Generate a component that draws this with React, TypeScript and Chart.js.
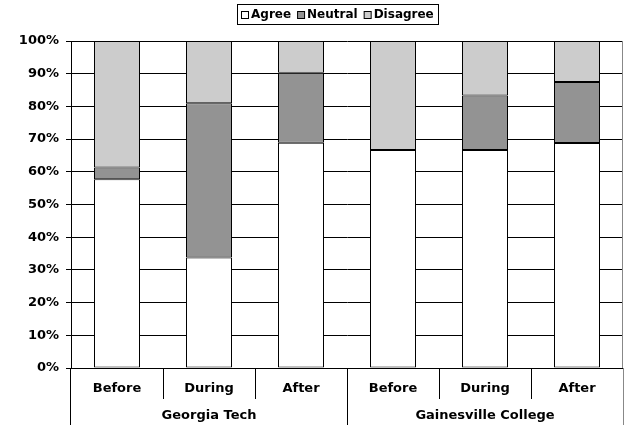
import React, { useEffect, useRef } from "react";
import { Chart, registerables } from "chart.js";

Chart.register(...registerables);

const categories = ["Before", "During", "After", "Before", "During", "After"];
const groups = ["Georgia Tech", "Gainesville College"];
const groupSize = 3;
const agree = [57.7, 33.8, 68.9, 66.7, 66.7, 68.8];
const neutral = [3.6, 47.2, 21.4, 0, 16.6, 18.7];
const disagree = [38.7, 19.0, 9.7, 33.3, 16.7, 12.5];
const seriesNames = ["Agree", "Neutral", "Disagree"];
const seriesColors = ["#ffffff", "#939393", "#cccccc"];
const yTicks = [0, 10, 20, 30, 40, 50, 60, 70, 80, 90, 100];

const FONT = "'DejaVu Sans', Verdana, sans-serif";

const decorPlugin = {
  id: "decor",
  afterDraw(chart: any) {
    const ctx = chart.ctx as CanvasRenderingContext2D;
    const xs = chart.scales.x;
    const { left, right, bottom, top } = chart.chartArea;
    const H = chart.height;
    const step = xs.getPixelForValue(1) - xs.getPixelForValue(0);
    const n = categories.length;
    ctx.save();
    ctx.strokeStyle = "#000";
    ctx.lineWidth = 1;
    const crisp = (v: number) => Math.round(v) + 0.5;
    // category dividers
    for (let i = 0; i <= n; i++) {
      const px = i === n ? right : xs.getPixelForValue(i) - step / 2;
      const isGroup = i % groupSize === 0;
      const x = crisp(i === 0 ? left - 1 : px);
      ctx.beginPath();
      ctx.moveTo(x, bottom);
      ctx.lineTo(x, isGroup ? H : bottom + 31);
      if (i === n) ctx.strokeStyle = "#888";
      ctx.stroke();
      ctx.strokeStyle = "#000";
    }
    // right border of plot
    ctx.strokeStyle = "#888";
    ctx.beginPath();
    ctx.moveTo(crisp(right - 1), top);
    ctx.lineTo(crisp(right - 1), bottom);
    ctx.stroke();
    // group labels
    ctx.fillStyle = "#000";
    ctx.font = `bold 13px ${FONT}`;
    ctx.textAlign = "center";
    ctx.textBaseline = "middle";
    groups.forEach((g, gi) => {
      const a = xs.getPixelForValue(gi * groupSize) - step / 2;
      const b = xs.getPixelForValue(gi * groupSize + groupSize - 1) + step / 2;
      ctx.fillText(g, (a + b) / 2, bottom + 48);
    });
    // legend
    ctx.font = `bold 12px ${FONT}`;
    const box = 7;
    const gapBoxText = 3;
    const gapItems = 6;
    const margin = 4;
    const widths = seriesNames.map((s) => ctx.measureText(s).width);
    const total =
      widths.reduce((s, w) => s + w + box + gapBoxText, 0) +
      gapItems * (seriesNames.length - 1) +
      margin * 2;
    const cx = 337;
    const lx = Math.round(cx - total / 2);
    const ly = 4;
    const lh = 20;
    ctx.strokeStyle = "#000";
    ctx.strokeRect(lx + 0.5, ly + 0.5, Math.round(total), lh);
    let x = lx + margin;
    ctx.textAlign = "left";
    seriesNames.forEach((s, i) => {
      ctx.fillStyle = seriesColors[i];
      ctx.fillRect(x + 0.5, ly + 7.5, box, box);
      ctx.strokeStyle = "#000";
      ctx.strokeRect(x + 0.5, ly + 7.5, box, box);
      x += box + gapBoxText;
      ctx.fillStyle = "#000";
      ctx.fillText(s, x, ly + 11);
      x += widths[i] + gapItems;
    });
    ctx.restore();
  },
};

export default function App() {
  const ref = useRef<HTMLCanvasElement | null>(null);
  useEffect(() => {
    document.body.style.margin = "0";
    const canvas = ref.current!;
    const series = [agree, neutral, disagree];
    const chart = new Chart(canvas, {
      type: "bar",
      data: {
        labels: categories,
        datasets: seriesNames.map((name, i) => ({
          label: name,
          data: series[i],
          backgroundColor: seriesColors[i],
          borderColor: "#000",
          borderWidth: 1,
          borderSkipped: false,
          barPercentage: 0.5,
          categoryPercentage: 1,
        })),
      },
      options: {
        responsive: false,
        animation: false,
        devicePixelRatio: 1,
        layout: { padding: { top: 41, right: 1, left: 0, bottom: 0 } },
        plugins: {
          legend: { display: false },
          tooltip: { enabled: false },
        },
        scales: {
          x: {
            stacked: true,
            grid: { display: false },
            border: { display: true, color: "#000", width: 1 },
            ticks: {
              color: "#000",
              font: { family: FONT, size: 13, weight: "bold" },
              padding: 5,
              maxRotation: 0,
              autoSkip: false,
            },
            afterFit: (s: any) => {
              s.height = 57;
            },
          },
          y: {
            stacked: true,
            min: 0,
            max: 100,
            afterBuildTicks: (s: any) => {
              s.ticks = yTicks.map((v) => ({ value: v }));
            },
            grid: { color: "#000", lineWidth: 1, tickLength: 5 },
            border: { display: true, color: "#000", width: 1 },
            ticks: {
              color: "#000",
              font: { family: FONT, size: 13, weight: "bold" },
              padding: 7,
              callback: (v: any) => `${v}%`,
            },
            afterFit: (s: any) => {
              s.width = 71;
            },
          },
        },
      },
      plugins: [decorPlugin],
    });
    return () => chart.destroy();
  }, []);
  return (
    <div style={{ position: "absolute", left: 0, top: 0, width: 624, height: 425, background: "#fff" }}>
      <canvas ref={ref} width={624} height={425} />
    </div>
  );
}
